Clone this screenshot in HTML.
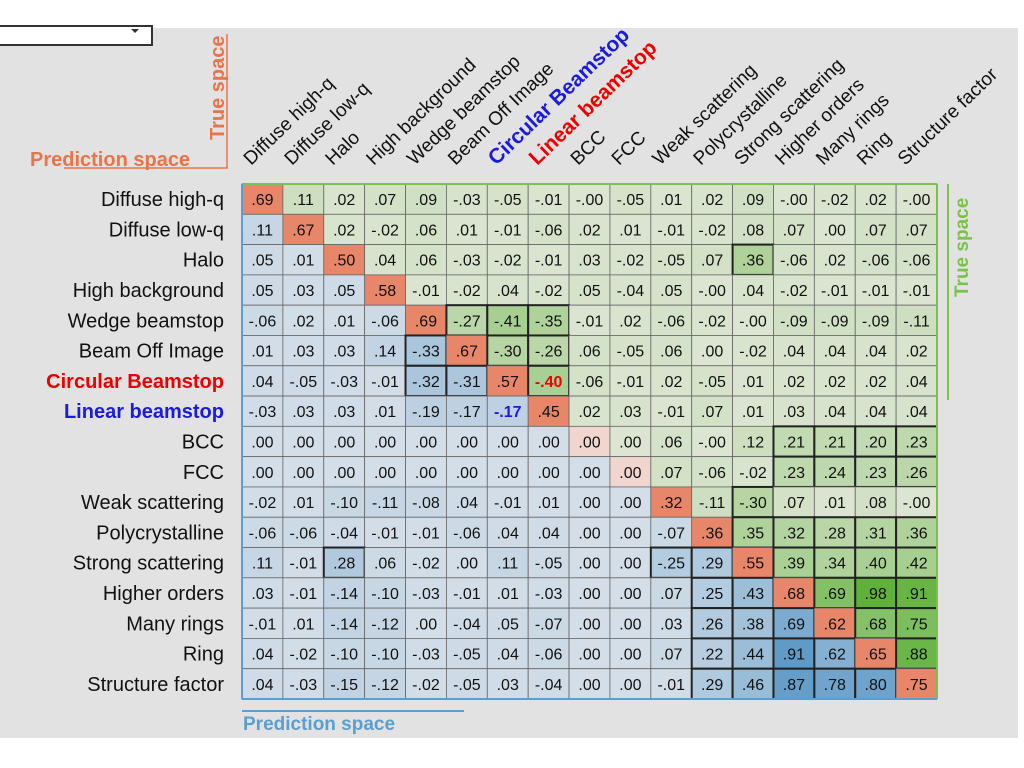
<!DOCTYPE html>
<html><head><meta charset="utf-8">
<style>
html,body{margin:0;padding:0;width:1024px;height:768px;background:#fff;overflow:hidden}
svg{display:block;font-family:"Liberation Sans",Arial,sans-serif}
</style></head>
<body>
<svg id="chart" width="1024" height="768">
  <rect x="0" y="28" width="1018" height="710" fill="#e2e2e2"/>
  <g>
    <rect x="-2" y="26" width="154" height="19" fill="#fff" stroke="#333" stroke-width="2"/>
    <path d="M131 29 L139 29 L135 33 Z" fill="#333"/>
  </g>
  <g>
    <text x="30" y="166" font-size="20" font-weight="bold" fill="#e8744a">Prediction space</text>
    <line x1="64" y1="168" x2="228" y2="168" stroke="#e8744a" stroke-width="1.5"/>
    <line x1="227" y1="34" x2="227" y2="168" stroke="#e8744a" stroke-width="1.5"/>
    <text transform="translate(224,140) rotate(-90)" font-size="20" font-weight="bold" fill="#e8744a">True space</text>
  </g>
  <g id="cells"></g>
  <g id="rowlabels"></g>
  <g id="collabels"></g>
  <g>
    <line x1="948" y1="184" x2="948" y2="400" stroke="#7cc24a" stroke-width="2"/>
    <text transform="translate(968,297) rotate(-90)" font-size="19" font-weight="bold" fill="#7cc24a">True space</text>
  </g>
  <g>
    <line x1="242" y1="711" x2="464" y2="711" stroke="#5a9fcf" stroke-width="2"/>
    <text x="243" y="730" font-size="19" font-weight="bold" fill="#5a9fcf">Prediction space</text>
  </g>
</svg>
<script>
const labels = ["Diffuse high-q","Diffuse low-q","Halo","High background","Wedge beamstop","Beam Off Image","Circular Beamstop","Linear beamstop","BCC","FCC","Weak scattering","Polycrystalline","Strong scattering","Higher orders","Many rings","Ring","Structure factor"];
const row0  = [.69,.11,.02,.07,.09,-.03,-.05,-.01,-.00,-.05,.01,.02,.09,-.00,-.02,.02,-.00];
const row1  = [.11,.67,.02,-.02,.06,.01,-.01,-.06,.02,.01,-.01,-.02,.08,.07,.00,.07,.07];
const row2  = [.05,.01,.50,.04,.06,-.03,-.02,-.01,.03,-.02,-.05,.07,.36,-.06,.02,-.06,-.06];
const row3  = [.05,.03,.05,.58,-.01,-.02,.04,-.02,.05,-.04,.05,-.00,.04,-.02,-.01,-.01,-.01];
const row4  = [-.06,.02,.01,-.06,.69,-.27,-.41,-.35,-.01,.02,-.06,-.02,-.00,-.09,-.09,-.09,-.11];
const row5  = [.01,.03,.03,.14,-.33,.67,-.30,-.26,.06,-.05,.06,.00,-.02,.04,.04,.04,.02];
const row6  = [.04,-.05,-.03,-.01,-.32,-.31,.57,-.40,-.06,-.01,.02,-.05,.01,.02,.02,.02,.04];
const row7  = [-.03,.03,.03,.01,-.19,-.17,-.17,.45,.02,.03,-.01,.07,.01,.03,.04,.04,.04];
const row8  = [.00,.00,.00,.00,.00,.00,.00,.00,.00,.00,.06,-.00,.12,.21,.21,.20,.23];
const row9  = [.00,.00,.00,.00,.00,.00,.00,.00,.00,.00,.07,-.06,-.02,.23,.24,.23,.26];
const row10 = [-.02,.01,-.10,-.11,-.08,.04,-.01,.01,.00,.00,.32,-.11,-.30,.07,.01,.08,-.00];
const row11 = [-.06,-.06,-.04,-.01,-.01,-.06,.04,.04,.00,.00,-.07,.36,.35,.32,.28,.31,.36];
const row12 = [.11,-.01,.28,.06,-.02,.00,.11,-.05,.00,.00,-.25,.29,.55,.39,.34,.40,.42];
const row13 = [.03,-.01,-.14,-.10,-.03,-.01,.01,-.03,.00,.00,.07,.25,.43,.68,.69,.98,.91];
const row14 = [-.01,.01,-.14,-.12,.00,-.04,.05,-.07,.00,.00,.03,.26,.38,.69,.62,.68,.75];
const row15 = [.04,-.02,-.10,-.10,-.03,-.05,.04,-.06,.00,.00,.07,.22,.44,.91,.62,.65,.88];
const row16 = [.04,-.03,-.15,-.12,-.02,-.05,.03,-.04,.00,.00,-.01,.29,.46,.87,.78,.80,.75];
const matrix = [row0,row1,row2,row3,row4,row5,row6,row7,row8,row9,row10,row11,row12,row13,row14,row15,row16];

const NS="http://www.w3.org/2000/svg";
const X0=242, Y0=184, CW=(937-242)/17, CH=(699-184)/17;
const xPos = i => X0 + i*CW;
const yPos = j => Y0 + j*CH;
function mix(a,b,t){return "rgb("+a.map((v,k)=>Math.round(v+(b[k]-v)*t)).join(",")+")";}
function fmt(v){let s=Math.abs(v).toFixed(2).replace(/^0/,"");return (v<0||(v===0&&1/v<0)?"-":"")+s;}
function el(tag,attrs,parent){const e=document.createElementNS(NS,tag);for(const k in attrs)e.setAttribute(k,attrs[k]);parent.appendChild(e);return e;}

const cells=document.getElementById("cells");
matrix.forEach((row,r)=>{
  row.forEach((v,c)=>{
    let fill, a=Math.min(1,Math.abs(v));
    if(r===c){ fill = v===0 ? "#f0d6cf" : "#e8866a"; }
    else if(c>r){ fill = mix([220,229,210],[92,176,54],a); }
    else { fill = mix([212,222,232],[84,148,196],a); }
    const bold = r!==c && a>=0.2;
    const rc=el("rect",{x:xPos(c),y:yPos(r),width:CW,height:CH,fill:fill,stroke:bold?"#222":"#666","stroke-width":bold?2:0.8},cells);
    
    
    let color="#111", weight="normal";
    if(r===6&&c===7){color="#e00";weight="bold";}
    if(r===7&&c===6){color="#1a1ae0";weight="bold";}
    const t=el("text",{x:xPos(c)+CW/2,y:yPos(r)+CH/2+6,"text-anchor":"middle","font-size":16,fill:color,"font-weight":weight},cells);
    t.textContent=fmt(v);
    
    
  });
});
el("line",{x1:X0,y1:Y0,x2:X0+17*CW,y2:Y0,stroke:"#7cc24a","stroke-width":2},cells);
el("line",{x1:X0+17*CW,y1:Y0,x2:X0+17*CW,y2:Y0+17*CH,stroke:"#7cc24a","stroke-width":2},cells);
el("line",{x1:X0,y1:Y0,x2:X0,y2:Y0+17*CH,stroke:"#5a9fcf","stroke-width":2},cells);
el("line",{x1:X0,y1:Y0+17*CH,x2:X0+17*CW,y2:Y0+17*CH,stroke:"#5a9fcf","stroke-width":2},cells);

const rl=document.getElementById("rowlabels");
labels.forEach((lab,r)=>{
  const special = r===6 ? "#e00" : r===7 ? "#1a1ae0" : null;
  const t=el("text",{x:224,y:yPos(r)+CH/2+7,"text-anchor":"end","font-size":20,fill:special||"#111","font-weight":special?"bold":"normal"},rl);
  t.textContent=lab;
  
  
});
const cl=document.getElementById("collabels");
labels.forEach((lab,c)=>{
  const special = c===6 ? "#1a1ae0" : c===7 ? "#e00" : null;
  const x=xPos(c)+9, y=166;
  const t=el("text",{transform:"translate("+x+","+y+") rotate(-44)","font-size":special?21:19,fill:special||"#111","font-weight":special?"bold":"normal"},cl);
  t.textContent=lab;
  
  
});
</script>
</body></html>
